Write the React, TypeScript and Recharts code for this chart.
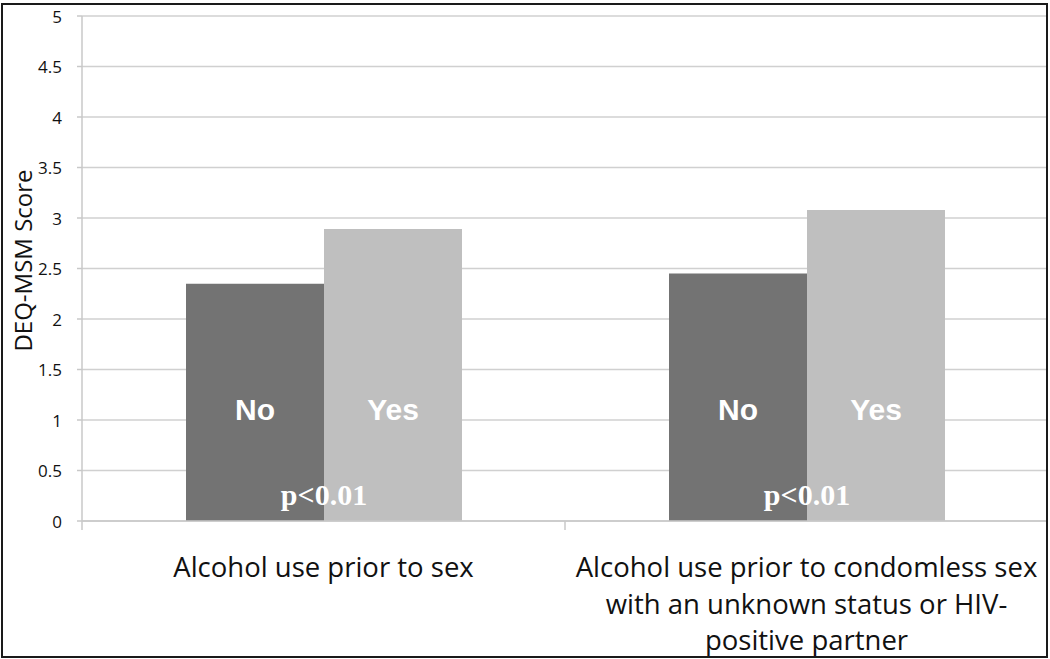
import React from "react";
import { BarChart, Bar, XAxis, YAxis, CartesianGrid, LabelList, ReferenceLine } from "recharts";

const categories = [
  "Alcohol use prior to sex",
  "Alcohol use prior to condomless sex\nwith an unknown status or HIV-\npositive partner",
];
const noScores = [2.35, 2.45];
const yesScores = [2.89, 3.08];
const pValues = ["p<0.01", "p<0.01"];
const yTicks = [0, 0.5, 1, 1.5, 2, 2.5, 3, 3.5, 4, 4.5, 5];

const data = categories.map((c, i) => ({ category: c, no: noScores[i], yes: yesScores[i] }));

const SANS = "'Open Sans', 'Noto Sans', sans-serif";

const CategoryTick = (props: any) => {
  const { x, y, payload } = props;
  const lines = String(payload.value).split("\n");
  return (
    <text x={x} y={y} textAnchor="middle" fontFamily={SANS} fontSize={27.5} fill="#111">
      {lines.map((line, i) => (
        <tspan key={i} x={x} dy={i === 0 ? 56 : 36.7}>
          {line}
        </tspan>
      ))}
    </text>
  );
};

const ValueTick = (props: any) => {
  const { x, y, payload } = props;
  return (
    <text x={x} y={y} textAnchor="end" dominantBaseline="central" fontFamily={SANS} fontSize={17} fill="#111">
      {payload.value}
    </text>
  );
};

const SeriesLabel = (props: any) => {
  const { x, y, width, height, text } = props;
  return (
    <text
      x={x + width / 2}
      y={y + height - 112}
      textAnchor="middle"
      dominantBaseline="central"
      fontFamily="'Liberation Sans', Arial, sans-serif"
      fontWeight="bold"
      fontSize={30}
      fill="#fff"
    >
      {text}
    </text>
  );
};

const PLabel = (props: any) => {
  const { x, y, height, index } = props;
  return (
    <text
      x={x}
      y={y + height - 16}
      textAnchor="middle"
      fontFamily="'Liberation Serif', 'Times New Roman', serif"
      fontWeight="bold"
      fontSize={30}
      fill="#fff"
    >
      {pValues[index]}
    </text>
  );
};

const YLabel = (props: any) => {
  const { viewBox } = props;
  const cx = viewBox.x;
  const cy = viewBox.y + viewBox.height / 2 - 8;
  return (
    <text
      transform={`translate(${cx},${cy}) rotate(-90)`}
      textAnchor="middle"
      dominantBaseline="central"
      fontFamily={SANS}
      fontSize={24}
      fill="#111"
    >
      DEQ-MSM Score
    </text>
  );
};

export default function App() {
  return (
    <div style={{ position: "absolute", left: 0, top: 0, width: 1050, height: 659, background: "#fff" }}>
      <BarChart
        width={1050}
        height={659}
        data={data}
        margin={{ top: 16, right: 2, left: 22, bottom: 0 }}
        barGap={0}
        barSize={138}
      >
        <CartesianGrid vertical={false} stroke="#d0d0d0" strokeWidth={1.5} />
        <XAxis
          dataKey="category"
          height={138}
          axisLine={{ stroke: "#c8c8c8", strokeWidth: 1.5 }}
          tickLine={false}
          tickSize={0}
          tickMargin={0}
          interval={0}
          tick={<CategoryTick />}
        />
        <YAxis
          width={60}
          domain={[0, 5]}
          ticks={yTicks}
          interval={0}
          axisLine={{ stroke: "#c8c8c8", strokeWidth: 1.5 }}
          tickLine={{ stroke: "#c8c8c8", strokeWidth: 1.5 }}
          tickSize={5}
          tickMargin={15}
          tick={<ValueTick />}
          label={<YLabel />}
        />
        {categories.map((c) => (
          <ReferenceLine
            key={c}
            segment={[
              { x: c, y: 0 },
              { x: c, y: -0.09 },
            ]}
            position="start"
            ifOverflow="visible"
            stroke="#c8c8c8"
            strokeWidth={1.5}
          />
        ))}
        <Bar dataKey="no" fill="#737373" isAnimationActive={false}>
          <LabelList dataKey="no" content={(p: any) => <SeriesLabel {...p} text="No" />} />
        </Bar>
        <Bar dataKey="yes" fill="#bfbfbf" isAnimationActive={false}>
          <LabelList dataKey="yes" content={(p: any) => <SeriesLabel {...p} text="Yes" />} />
          <LabelList dataKey="yes" content={(p: any) => <PLabel {...p} />} />
        </Bar>
      </BarChart>
      <div
        style={{
          position: "absolute",
          left: 1,
          top: 3,
          width: 1047,
          height: 655,
          border: "2px solid #1a1a1a",
          boxSizing: "border-box",
          pointerEvents: "none",
        }}
      />
    </div>
  );
}
